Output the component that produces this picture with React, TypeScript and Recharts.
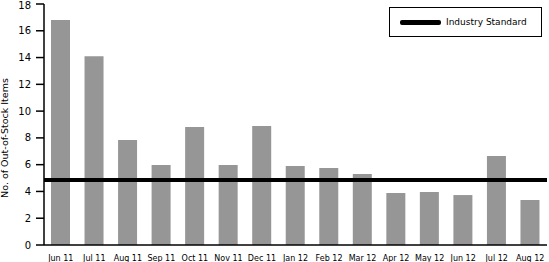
import { Bar, ComposedChart, XAxis, YAxis, ReferenceLine } from "recharts"

const months = [
  "Jun 11", "Jul 11", "Aug 11", "Sep 11", "Oct 11", "Nov 11", "Dec 11", "Jan 12",
  "Feb 12", "Mar 12", "Apr 12", "May 12", "Jun 12", "Jul 12", "Aug 12",
]
const outOfStock = [16.8, 14.1, 7.84, 5.97, 8.81, 5.97, 8.89, 5.9, 5.75, 5.3, 3.88, 3.96, 3.73, 6.65, 3.36]
const industryStandard = 4.85
const yTicks = [0, 2, 4, 6, 8, 10, 12, 14, 16, 18]

const data = months.map((m, i) => ({ month: m, items: outOfStock[i] }))

const font = "DejaVu Sans, Verdana, sans-serif"

function LegendBox() {
  return (
    <div
      style={{
        position: "absolute",
        left: 389,
        top: 7,
        width: 153,
        height: 30,
        border: "1px solid #000",
        boxSizing: "border-box",
        display: "flex",
        alignItems: "center",
        fontFamily: font,
        fontSize: 9,
        color: "#000",
        background: "#fff",
      }}
    >
      <span style={{ display: "inline-block", width: 41, height: 5, background: "#000", marginLeft: 10, marginRight: 5, borderRadius: 2 }} />
      Industry Standard
    </div>
  )
}

const YLabel = () => (
  <text
    x={8}
    y={138}
    transform="rotate(-90, 8, 138)"
    textAnchor="middle"
    fontSize={9.5}
    fontFamily={font}
    fill="#000"
  >
    No. of Out-of-Stock Items
  </text>
)

export default function App() {
  return (
    <div style={{ position: "fixed", left: 0, top: 0, width: 549, height: 262, background: "#fff" }}>
      <ComposedChart width={549} height={262} data={data} margin={{ top: 4, right: 2, left: 0, bottom: 0 }}>
        <XAxis
          dataKey="month"
          height={17}
          tickLine={false}
          axisLine={{ stroke: "#000", strokeWidth: 1.5 }}
          tick={{ fill: "#000", fontSize: 8, fontFamily: font }}
          tickMargin={4}
          interval={0}
        />
        <YAxis
          width={44}
          domain={[0, 18]}
          ticks={yTicks}
          tickSize={8}
          tickMargin={5}
          axisLine={{ stroke: "#000", strokeWidth: 1.5 }}
          tickLine={{ stroke: "#000", strokeWidth: 1.5 }}
          tick={{ fill: "#000", fontSize: 10, fontFamily: font }}
          label={<YLabel />}
        />
        <Bar dataKey="items" fill="#969696" barSize={19} isAnimationActive={false} />
        <ReferenceLine y={industryStandard} stroke="#000" strokeWidth={4} />
      </ComposedChart>
      <LegendBox />
    </div>
  )
}
